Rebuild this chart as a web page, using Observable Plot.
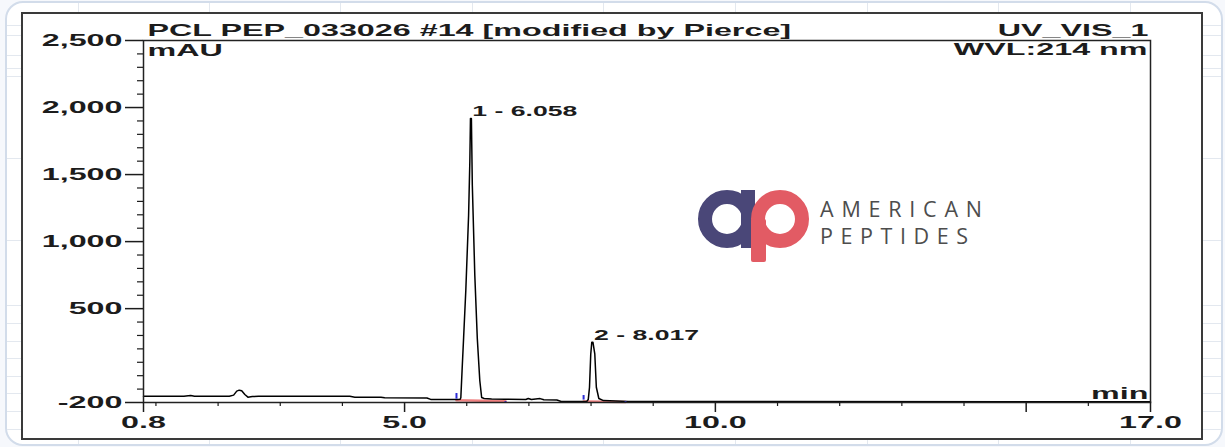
<!DOCTYPE html>
<html>
<head>
<meta charset="utf-8">
<script src="https://cdn.jsdelivr.net/npm/d3@7"></script>
<script src="https://cdn.jsdelivr.net/npm/@observablehq/plot@0.6"></script>
<style>
html,body{margin:0;padding:0;background:#f6f8fc;overflow:hidden;}
#wrap{position:relative;width:1225px;height:447px;overflow:hidden;}
#card{position:absolute;left:5px;top:1px;width:1214px;height:441px;border:2px solid #d2dcea;border-radius:18px;background:#fff;overflow:hidden;}
.gv{position:absolute;top:0;bottom:0;width:1px;background:#e3e8ef;}
.gh{position:absolute;left:0;right:0;height:1px;background:#e3e8ef;}
#frame{position:absolute;left:21px;top:12px;width:1178px;height:424px;border:2px solid #3a3a3a;background:#fff;}
#chart{position:absolute;left:0;top:0;}
#logo{position:absolute;left:0;top:0;}
</style>
</head>
<body>
<div id="wrap">
  <div id="card"></div>
  <div id="frame"></div>
  <svg id="logo" width="1225" height="447">
    <circle cx="727" cy="219" r="22" fill="none" stroke="#4a4778" stroke-width="14"/>
    <rect x="741" y="190" width="14" height="58" fill="#4a4778"/>
    <circle cx="780" cy="219" r="22" fill="none" stroke="#e25b64" stroke-width="14"/>
    <rect x="751" y="219" width="15" height="43" rx="2" fill="#e25b64"/>
    <text x="820" y="216.5" font-family="Open Sans, Lato, sans-serif" font-size="21.5" fill="#4d4d4d" textLength="162" lengthAdjust="spacing">AMERICAN</text>
    <text x="820" y="243.5" font-family="Open Sans, Lato, sans-serif" font-size="21.5" fill="#4d4d4d" textLength="148" lengthAdjust="spacing">PEPTIDES</text>
  </svg>
  <div id="chart"></div>
</div>
<script>
// ---- data ----
const traceT = [0.8,1.45,1.52,1.56,1.62,2.18,2.25,2.3,2.34,2.38,2.43,2.48,2.55,2.65,4.12,4.2,4.62,4.68,5.36,5.42,5.85,5.895,
  5.905,5.925,5.95,5.985,6.03,6.05,6.06,6.075,6.09,6.13,6.17,6.21,6.24,6.28,6.4,6.62,6.95,6.99,7.04,7.18,7.24,7.45,7.52,7.93,
  7.955,7.975,7.995,8.012,8.03,8.06,8.085,8.125,8.2,8.6,17.0];
const traceV = [-153,-153,-149,-148,-153,-153,-145,-115,-108,-112,-140,-160,-156,-154,-154,-160,-161,-165,-166,-177,-178,-175,
  -165,39,285,636,1196,1600,1919,1919,1419,748,278,-36,-163,-170,-173,-176,-178,-170,-178,-171,-180,-182,-192,-192,
  -178,-86,160,250,250,163,-86,-170,-186,-192,-194];

const peakNames = ["1 - 6.058", "2 - 8.017"];
const peakTimes = [6.058, 8.017];
const peakHeights = [1919, 250];

const base1T = [5.835, 6.624], base1V = [-184, -191];
const base2T = [7.88, 8.555],  base2V = [-192, -197];
const markT  = [5.835, 6.624, 7.88, 8.555];
const markLo = [-175, -203, -182, -203];
const markHi = [-133, -193, -148, -194];

const yMajor = [-200, 500, 1000, 1500, 2000, 2500];
const yMinor = [-100, 0, 100, 200, 300, 400, 600, 700, 800, 900, 1100, 1200, 1300, 1400, 1600, 1700, 1800, 1900, 2100, 2200, 2300, 2400];
const xMajor = [0.8, 5, 10, 15, 17];
const xLabeled = [0.8, 5, 10, 17];
const xMinor = [1, 2, 3, 4, 6, 7, 8, 9, 11, 12, 13, 14, 16];

const titleLeft = "PCL PEP_033026 #14 [modified by Pierce]";
const titleRight = "UV_VIS_1";
const unitY = "mAU";
const wavelength = "WVL:214 nm";
const unitX = "min";

// ---- background grid ----
const card = document.getElementById("card");
const gridX = [78, 209, 340, 472, 603, 735, 867, 998, 1130];
const gridY = [25, 35, 55, 68, 76, 158, 240, 305, 323, 341, 358, 376, 393, 411, 429];
gridX.forEach(x => { const d = document.createElement("div"); d.className = "gv"; d.style.left = (x - 7) + "px"; card.appendChild(d); });
gridY.forEach(y => { const d = document.createElement("div"); d.className = "gh"; d.style.top = (y - 3) + "px"; card.appendChild(d); });

// ---- chart ----
const trace = traceT.map((t, i) => ({t, v: traceV[i]}));
const base1 = base1T.map((t, i) => ({t, v: base1V[i]}));
const base2 = base2T.map((t, i) => ({t, v: base2V[i]}));
const marks = markT.map((t, i) => ({t, lo: markLo[i], hi: markHi[i]}));
const peaks = peakNames.map((n, i) => ({n, t: peakTimes[i], v: peakHeights[i]}));
const fmtY = d => d.toLocaleString("en-US");
const F = "Liberation Sans, Arial, sans-serif";
const ink = "#1c1c1c";

const plot = Plot.plot({
  width: 1225, height: 447,
  marginLeft: 143, marginRight: 75, marginTop: 40, marginBottom: 45,
  style: {background: "transparent", fontFamily: F, overflow: "visible"},
  x: {domain: [0.8, 17], axis: null, label: null},
  y: {domain: [-200, 2500], axis: null, label: null},
  marks: [
    Plot.line(base1, {x: "t", y: "v", stroke: "#ef8080", strokeWidth: 2.5}),
    Plot.line(base2, {x: "t", y: "v", stroke: "#ef8080", strokeWidth: 2.5}),
    Plot.line(trace, {x: "t", y: "v", stroke: "#000", strokeWidth: 1.5}),
    Plot.ruleX(marks, {x: "t", y1: "lo", y2: "hi", stroke: "#2b2bd6", strokeWidth: 2}),
    Plot.frame({stroke: "#222", strokeWidth: 1.5}),
    Plot.axisY(yMajor, {label: null, tickSize: 18, tickPadding: 3, tickFormat: fmtY, fontSize: 17, fontWeight: "bold", color: ink, strokeWidth: 1.5}),
    Plot.axisY(yMinor, {label: null, tickSize: 6, tickFormat: () => "", color: ink, strokeWidth: 1.2}),
    Plot.axisX(xMajor, {label: null, tickSize: 10, tickPadding: 3, tickFormat: d => xLabeled.includes(d) ? d.toFixed(1) : "", fontSize: 17, fontWeight: "bold", color: ink, strokeWidth: 1.5}),
    Plot.axisX(xMinor, {label: null, tickSize: 4, tickFormat: () => "", color: ink, strokeWidth: 1.2}),
    Plot.text([titleLeft], {frameAnchor: "top-left", textAnchor: "start", lineAnchor: "bottom", dx: 4, dy: -5, fontSize: 17, fontWeight: "bold", fill: ink}),
    Plot.text([unitY], {frameAnchor: "top-left", textAnchor: "start", lineAnchor: "bottom", dx: 4, dy: 15, fontSize: 17, fontWeight: "bold", fill: ink}),
    Plot.text([titleRight], {frameAnchor: "top-right", textAnchor: "end", lineAnchor: "bottom", dx: -2, dy: -5, fontSize: 17, fontWeight: "bold", fill: ink}),
    Plot.text([wavelength], {frameAnchor: "top-right", textAnchor: "end", lineAnchor: "bottom", dx: -3, dy: 14, fontSize: 17, fontWeight: "bold", fill: ink}),
    Plot.text([unitX], {frameAnchor: "bottom-right", textAnchor: "end", lineAnchor: "bottom", dx: -2, dy: -4, fontSize: 17, fontWeight: "bold", fill: ink}),
    Plot.text(peaks, {x: "t", y: "v", text: "n", textAnchor: "start", lineAnchor: "bottom", dx: 2, dy: -2, fontSize: 14, fontWeight: "bold", fill: ink})
  ]
});

// horizontal stretch of lettering, as in the reference
const SX = 1.9;
plot.querySelectorAll("text").forEach(t => {
  const tr = t.getAttribute("transform");
  if (tr) t.setAttribute("transform", tr + ` scale(${SX},1)`);
  else {
    const x = +(t.getAttribute("x") || 0);
    t.setAttribute("transform", `translate(${x},0) scale(${SX},1) translate(${-x},0)`);
  }
});
document.getElementById("chart").appendChild(plot);
</script>
</body>
</html>
